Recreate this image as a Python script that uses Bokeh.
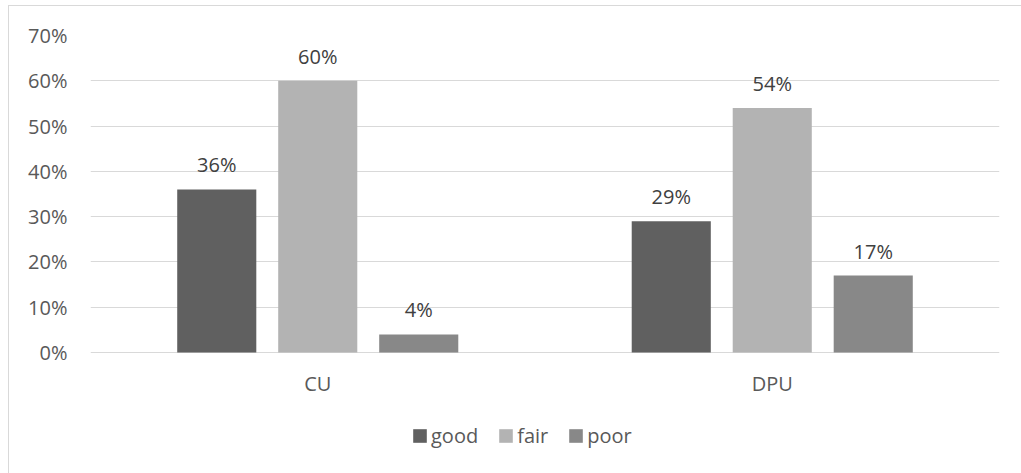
from bokeh.plotting import figure
from bokeh.models import (ColumnDataSource, Range1d, FixedTicker, NumeralTickFormatter,
                          LabelSet, Legend, LegendItem, InlineStyleSheet)
from bokeh.core.properties import value
from bokeh.embed import file_html
from bokeh.resources import INLINE

# data
categories = ["CU", "DPU"]
series = ["good", "fair", "poor"]
good = [0.36, 0.29]
fair = [0.60, 0.54]
poor = [0.04, 0.17]
y_ticks = [0.0, 0.1, 0.2, 0.3, 0.4, 0.5, 0.6, 0.7]

colors = {"good": "#606060", "fair": "#b3b3b3", "poor": "#888888"}
FONT = "Open Sans"
TEXT = "#595959"

# plot frame runs down to the bottom edge so the category labels and the
# legend sit inside it; 0.7 spans 317 px, the 121 px below zero extend the range
y_top = 0.7
y_bottom = -y_top * 121 / 317

p = figure(width=1021, height=473, output_backend="svg", toolbar_location=None,
           x_range=Range1d(0, len(categories)), y_range=Range1d(y_bottom, y_top),
           min_border_left=90, min_border_right=22, min_border_top=35, min_border_bottom=0)
p.background_fill_color = "white"
p.border_fill_color = "white"
p.outline_line_color = None

# light rule framing the chart area (top and left edges)
p.stylesheets = [InlineStyleSheet(css="""
:host { position: relative; overflow: hidden; }
:host::after {
  content: ""; position: absolute; left: 8px; top: 5px;
  width: 1013px; height: 468px;
  border-top: 1px solid #d9d9d9; border-left: 1px solid #d9d9d9;
  pointer-events: none; z-index: 10;
}
""")]

centers = [i + 0.5 for i in range(len(categories))]
offset = 0.2222
bar_w = 0.174

values = {"good": good, "fair": fair, "poor": poor}
items = []
for j, name in enumerate(series):
    xs = [c + (j - 1) * offset for c in centers]
    vals = values[name]
    src = ColumnDataSource(dict(x=xs, top=vals, label=[f"{round(v * 100)}%" for v in vals]))
    r = p.vbar(x="x", top="top", width=bar_w, bottom=0, source=src,
               fill_color=colors[name], line_color=None)
    items.append(LegendItem(label=name, renderers=[r]))
    p.add_layout(LabelSet(x="x", y="top", text="label", source=src, text_align="center",
                          text_baseline="alphabetic", y_offset=17, text_font=value(FONT),
                          text_font_size="20px", text_color="#404040"))

# category labels under the baseline
cat_src = ColumnDataSource(dict(x=centers, y=[0] * len(centers), label=categories))
p.add_layout(LabelSet(x="x", y="y", text="label", source=cat_src, text_align="center",
                      text_baseline="alphabetic", y_offset=-38, text_font=value(FONT),
                      text_font_size="20px", text_color=TEXT))

# y axis
p.yaxis.ticker = FixedTicker(ticks=y_ticks)
p.yaxis.formatter = NumeralTickFormatter(format="0%")
p.yaxis.axis_line_color = None
p.yaxis.major_tick_line_color = None
p.yaxis.minor_tick_line_color = None
p.yaxis.major_label_standoff = 17
p.yaxis.major_label_text_font = FONT
p.yaxis.major_label_text_font_size = "20px"
p.yaxis.major_label_text_color = TEXT

p.xaxis.visible = False
p.xgrid.grid_line_color = None
p.ygrid.ticker = FixedTicker(ticks=y_ticks)
p.ygrid.grid_line_color = "#d9d9d9"
p.ygrid.grid_line_width = 1

legend = Legend(items=items, orientation="horizontal", location=(321, 24),
                glyph_width=17, glyph_height=17, label_standoff=3, spacing=19,
                padding=0, margin=0, border_line_color=None, background_fill_alpha=0,
                label_text_font=FONT, label_text_font_size="20px", label_text_color=TEXT)
p.add_layout(legend, "center")

open("out.html", "w").write(file_html(p, INLINE))
